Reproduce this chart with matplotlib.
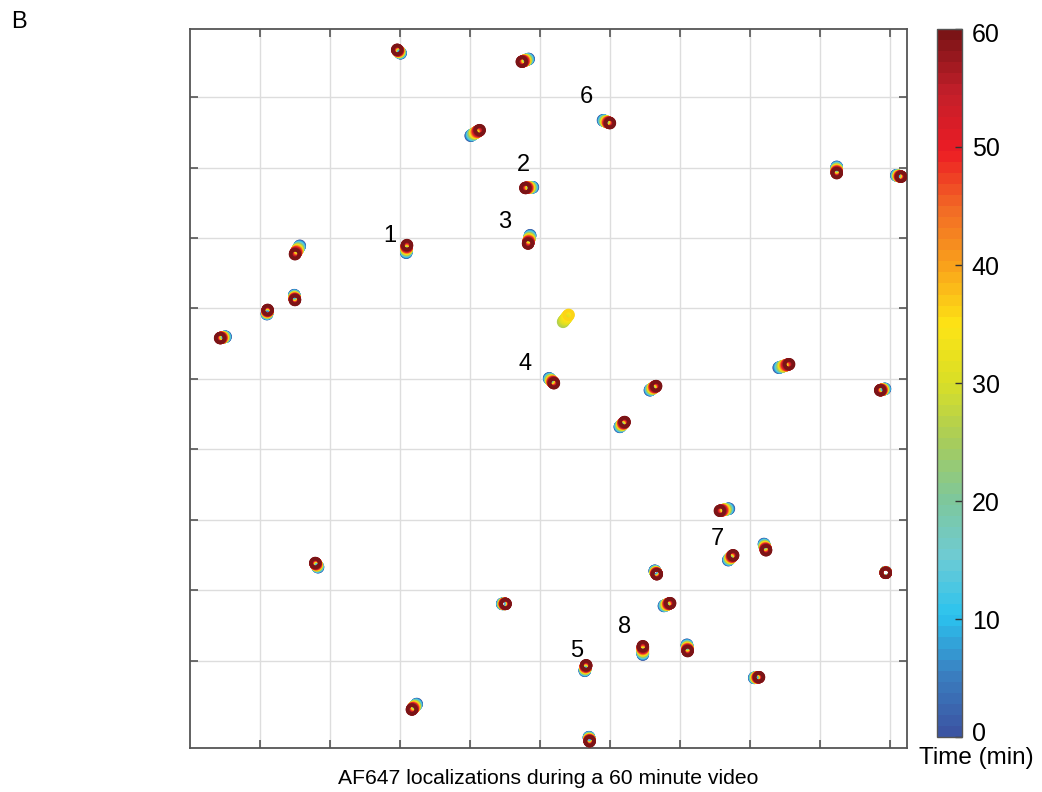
import matplotlib
matplotlib.use("Agg")
import matplotlib.pyplot as plt
import numpy as np
from matplotlib.colors import LinearSegmentedColormap, Normalize
from matplotlib.transforms import ScaledTranslation

plt.rcParams['font.family'] = ['Liberation Sans', 'DejaVu Sans']

# ---- data -------------------------------------------------------------
# frame times (min) at which each particle was localized
frame_times = [0, 2, 4, 6, 8, 10, 12, 14, 16, 18, 20, 22, 24, 26, 28, 30,
               32, 34, 36, 38, 40, 42, 44, 46, 48, 50, 52, 54, 56, 58, 60]
yellow_times = [26, 27, 28, 29, 30, 31, 32, 33, 34, 35, 36]

# position at start of video (t=0) and at end (t=60), grid units
x_start = [3.01, 4.84, 5.90, 4.01, 4.90, 9.24, 10.09, 1.57, 3.09, 4.86, 1.49,
           1.10, 0.51, 5.13, 8.41, 9.93, 6.57, 6.14, 7.70, 7.69, 8.20, 1.83,
           6.64, 9.94, 4.46, 6.77, 6.47, 7.10, 5.64, 8.06, 3.24, 5.70]
y_start = [9.62, 9.54, 8.67, 8.45, 7.72, 8.01, 7.89, 6.89, 6.79, 7.04, 6.19,
           5.92, 5.60, 5.01, 5.16, 4.86, 4.84, 4.32, 3.16, 2.43, 2.66, 2.33,
           2.28, 2.26, 1.81, 1.78, 1.09, 1.23, 0.86, 0.76, 0.39, -0.08]
x_end = [2.96, 4.74, 6.00, 4.14, 4.79, 9.24, 10.16, 1.50, 3.10, 4.83, 1.50,
         1.11, 0.43, 5.20, 8.56, 9.86, 6.66, 6.21, 7.57, 7.76, 8.23, 1.79,
         6.67, 9.94, 4.51, 6.86, 6.47, 7.11, 5.66, 8.13, 3.17, 5.71]
y_end = [9.67, 9.50, 8.63, 8.53, 7.71, 7.92, 7.87, 6.77, 6.90, 6.92, 6.12,
         5.98, 5.58, 4.94, 5.21, 4.84, 4.90, 4.39, 3.13, 2.50, 2.57, 2.39,
         2.23, 2.25, 1.81, 1.82, 1.21, 1.14, 0.94, 0.77, 0.31, -0.14]

# particle localized only mid-video (yellow)
yellow_start = (5.33, 5.81)
yellow_end = (5.41, 5.91)

# labelled particles
label_text = ['1', '2', '3', '4', '5', '6', '7', '8']
label_x = [2.86, 4.77, 4.49, 4.79, 5.53, 5.67, 7.54, 6.21]
label_y = [7.03, 8.04, 7.23, 5.21, 1.14, 9.00, 2.73, 1.48]

cbar_ticks = [0, 10, 20, 30, 40, 50, 60]
x_grid = [1, 2, 3, 4, 5, 6, 7, 8, 9, 10]
y_grid = [1, 2, 3, 4, 5, 6, 7, 8, 9]

# ---- colormap ---------------------------------------------------------
cm_colors = ['#3b55a3', '#3a7fc0', '#2bc3ef', '#6ecbd4', '#7ec79b',
             '#a8cc5a', '#d9df27', '#fde415', '#f9a21b', '#f26a25',
             '#ec1c24', '#c21f2a', '#7b1416']
cmap = LinearSegmentedColormap.from_list('time', cm_colors, N=64)
norm = Normalize(0, 60)

# ---- figure -----------------------------------------------------------
fig = plt.figure(figsize=(10.42, 7.92), dpi=100)
ax = fig.add_axes([0.1823, 0.0556, 0.6881, 0.9078])
ax.set_xlim(0.0, 10.243)
ax.set_ylim(-0.234, 9.965)

ax.set_xticks(x_grid)
ax.set_yticks(y_grid)
ax.set_xticklabels([])
ax.set_yticklabels([])
ax.tick_params(direction='in', length=6, width=1.2, color='#555555',
               top=True, right=True)
ax.grid(True, color='#dddddd', linewidth=1.0)
ax.set_axisbelow(True)
for sp in ax.spines.values():
    sp.set_color('#555555')
    sp.set_linewidth(1.3)

MS = 40
LW = 2.6
t = np.array(frame_times, dtype=float)
for xs, ys, xe, ye in zip(x_start, y_start, x_end, y_end):
    frac = t / 60.0
    px = xs + (xe - xs) * frac
    py = ys + (ye - ys) * frac
    ax.scatter(px, py, s=MS, facecolors='none', edgecolors=cmap(norm(t)),
               linewidths=LW, zorder=3)

ty = np.array(yellow_times, dtype=float)
frac = (ty - ty[0]) / (ty[-1] - ty[0])
px = yellow_start[0] + (yellow_end[0] - yellow_start[0]) * frac
py = yellow_start[1] + (yellow_end[1] - yellow_start[1]) * frac
ax.scatter(px, py, s=MS, facecolors='none', edgecolors=cmap(norm(ty)),
           linewidths=LW, zorder=3)

for txt, lx, ly in zip(label_text, label_x, label_y):
    ax.text(lx, ly, txt, fontsize=17, ha='center', va='center', color='black')

ax.set_xlabel('AF647 localizations during a 60 minute video', fontsize=15.2,
              labelpad=12)

# ---- colorbar ---------------------------------------------------------
cax = fig.add_axes([0.8992, 0.0694, 0.0240, 0.894])
sm = matplotlib.cm.ScalarMappable(norm=norm, cmap=cmap)
cb = fig.colorbar(sm, cax=cax, ticks=cbar_ticks)
cb.outline.set_edgecolor('#555555')
cb.outline.set_linewidth(1.0)
cax.tick_params(direction='in', length=5, width=1.0, color='#333333',
                labelsize=18, pad=7)
fig.canvas.draw()
tls = cax.get_yticklabels()
tls[0].set_transform(tls[0].get_transform() +
                     ScaledTranslation(0, 6 / 100, fig.dpi_scale_trans))
tls[-1].set_transform(tls[-1].get_transform() +
                      ScaledTranslation(0, -4 / 100, fig.dpi_scale_trans))
fig.text(0.9367, 0.0430, 'Time (min)', fontsize=17.5, ha='center',
         va='center')

fig.text(0.011, 0.972, 'B', fontsize=17, ha='left', va='center')

fig.savefig('out.png', dpi=100)
